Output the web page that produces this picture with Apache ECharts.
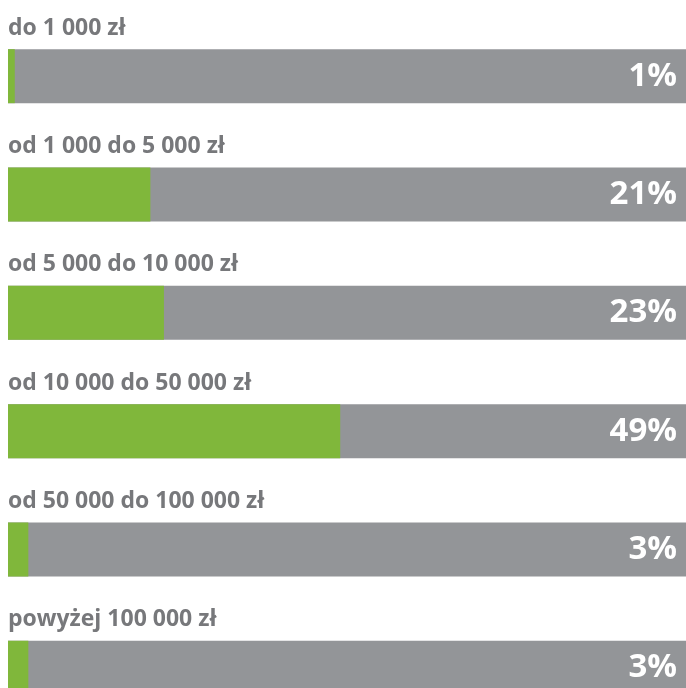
<!DOCTYPE html>
<html>
<head>
<meta charset="utf-8">
<script src="https://cdn.jsdelivr.net/npm/echarts@6/dist/echarts.min.js"></script>
<style>
  html, body { margin: 0; padding: 0; background: #fff; overflow: hidden; }
  /* ostatni pasek wychodzi poza dolną krawędź, stąd wyższy kontener */
  #chart { width: 686px; height: 727px; }
</style>
</head>
<body>
<div id="chart"></div>
<script>
// przedziały kwot
var categories = ['do 1 000 zł', 'od 1 000 do 5 000 zł', 'od 5 000 do 10 000 zł',
  'od 10 000 do 50 000 zł', 'od 50 000 do 100 000 zł', 'powyżej 100 000 zł'];
// udział procentowy
var shares = [1, 21, 23, 49, 3, 3];
var fullScale = [100, 100, 100, 100, 100, 100];

var chart = echarts.init(document.getElementById('chart'));

chart.setOption({
  animation: false,
  grid: { left: 8, right: 0, top: 17, bottom: 0 },
  xAxis: { type: 'value', min: 0, max: 100, show: false },
  yAxis: { type: 'category', data: categories, inverse: true, show: false },
  series: [
    {
      // szare tło paska
      type: 'bar',
      data: fullScale,
      barWidth: 54,
      barGap: '-100%',
      itemStyle: { color: '#939598' },
      label: {
        show: true,
        position: 'insideRight',
        distance: 9,
        formatter: function (p) { return shares[p.dataIndex] + '%'; },
        color: '#fff',
        fontFamily: 'Open Sans',
        fontWeight: 'bold',
        fontSize: 33
      },
      z: 1
    },
    {
      // zielona część
      type: 'bar',
      data: shares,
      barWidth: 54,
      itemStyle: { color: '#80b73b' },
      label: {
        show: true,
        position: [0, -21],
        align: 'left',
        verticalAlign: 'middle',
        formatter: function (p) { return categories[p.dataIndex]; },
        color: '#77787b',
        fontFamily: 'Open Sans',
        fontWeight: 'bold',
        fontSize: 23
      },
      z: 2
    }
  ]
});
</script>
</body>
</html>
